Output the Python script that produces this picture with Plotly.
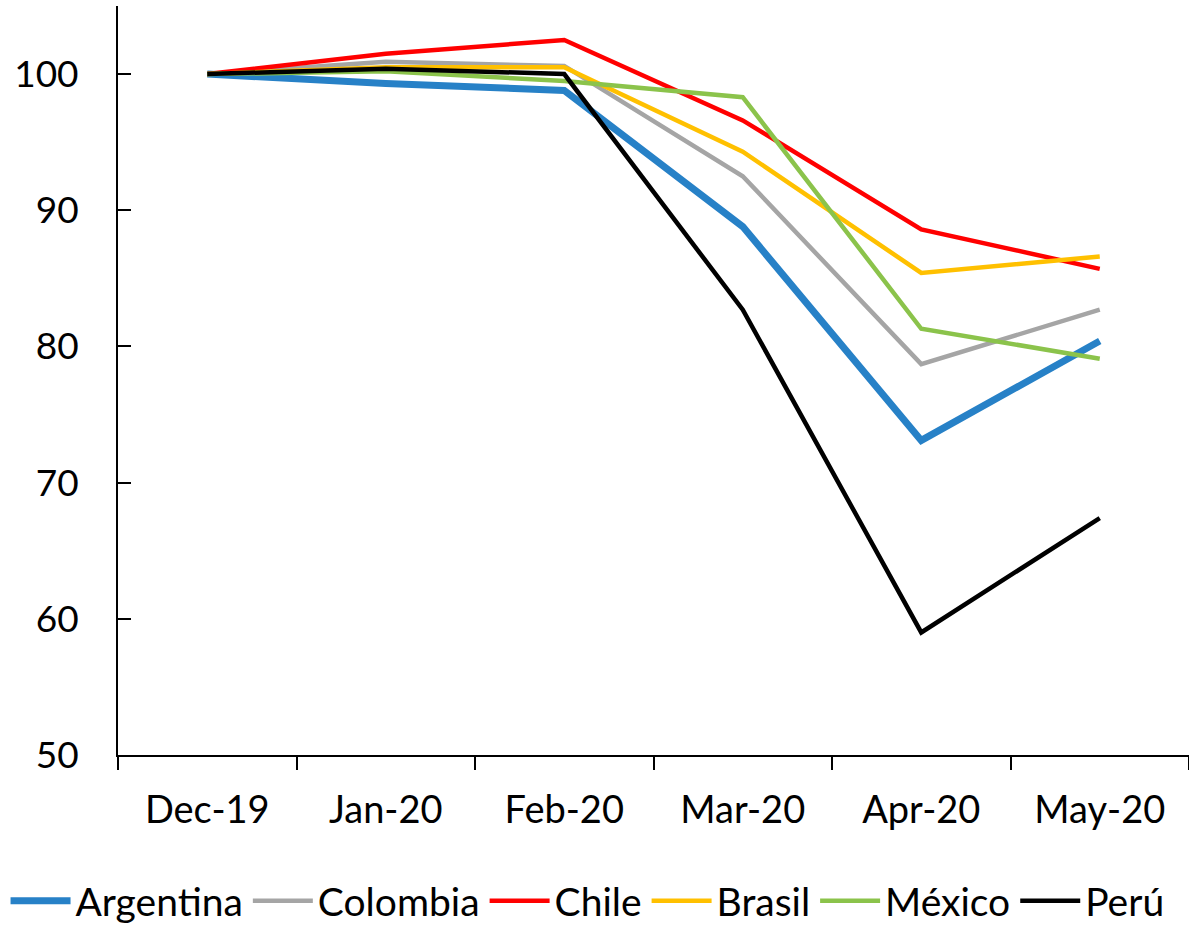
import plotly.graph_objects as go

months = ["Dec-19", "Jan-20", "Feb-20", "Mar-20", "Apr-20", "May-20"]
argentina = [100.0, 99.3, 98.8, 88.8, 73.1, 80.4]
colombia = [100.0, 100.9, 100.6, 92.5, 78.7, 82.7]
chile = [100.0, 101.5, 102.5, 96.6, 88.6, 85.7]
brasil = [100.0, 100.5, 100.5, 94.3, 85.4, 86.6]
mexico = [100.0, 100.2, 99.5, 98.3, 81.3, 79.1]
peru = [100.0, 100.4, 100.0, 82.7, 59.0, 67.4]

series = [
    ("Argentina", argentina, "#2781C7", 7),
    ("Colombia", colombia, "#A5A5A5", 4.5),
    ("Chile", chile, "#FF0000", 4.5),
    ("Brasil", brasil, "#FFC000", 4.5),
    ("México", mexico, "#8BC34B", 4.5),
    ("Perú", peru, "#000000", 4.5),
]

FONT = "Lato"
fig = go.Figure()
for name, vals, color, w in series:
    fig.add_trace(go.Scatter(x=months, y=vals, name=name, mode="lines",
                             line=dict(color=color, width=w)))

fig.update_layout(
    width=1189, height=929,
    margin=dict(l=118, r=0, t=6, b=174, autoexpand=False),
    paper_bgcolor="white", plot_bgcolor="white",
    font=dict(family=FONT, size=36, color="black"),
    showlegend=True,
    legend=dict(orientation="h", x=-0.105, xanchor="left", y=-0.152, yanchor="top",
                font=dict(family=FONT, size=39), itemwidth=60,
                tracegroupgap=0, bgcolor="rgba(0,0,0,0)"),
)
fig.update_xaxes(type="category", showline=True, linecolor="black", linewidth=2,
                 ticks="outside", tickson="boundaries", ticklen=13, tickwidth=1.5,
                 tickcolor="black", showgrid=False, zeroline=False,
                 ticklabelstandoff=20,
                 tickfont=dict(family=FONT, size=38), range=[-0.5, 5.5])
fig.update_yaxes(range=[50, 105], tickvals=[50, 60, 70, 80, 90, 100],
                 showline=True, linecolor="black", linewidth=2,
                 ticks="inside", ticklen=13, tickwidth=1.5, tickcolor="black",
                 showgrid=False, zeroline=False, ticklabelstandoff=30,
                 tickfont=dict(family=FONT, size=37))

fig.write_html("out.html")
